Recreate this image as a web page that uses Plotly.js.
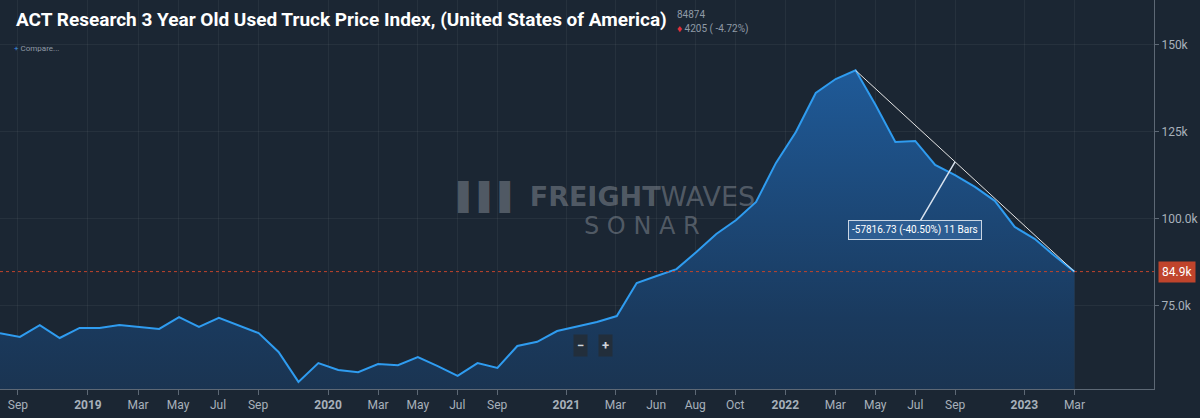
<!DOCTYPE html>
<html>
<head>
<meta charset="utf-8">
<script src="https://cdn.plot.ly/plotly-3.0.1.min.js"></script>
<style>
  html, body { margin: 0; padding: 0; background: #1b2633; }
  #chart { width: 1200px; height: 418px; }
</style>
</head>
<body>
<div id="chart"></div>
<script>
// monthly index values, Aug 2018 .. Mar 2023
const priceIndex = [
  67200, 66100, 69500, 65800, 68700, 68700, 69500, 69000, 68400, 71800,
  69000, 71600, 69300, 67200, 61800, 53200, 58600, 56600, 56000, 58300,
  58000, 60300, 57700, 54900, 58600, 57200, 63500, 64700, 67800, 69000,
  70400, 72100, 81600, 83600, 85600, 90500, 95700, 99700, 104900, 116100,
  125000, 136200, 140200, 142691, 132800, 122100, 122400, 115500, 112600, 109200,
  105200, 97700, 94300, 89400, 84874
];
const barIndex = priceIndex.map((v, i) => i);

const tickPos = [0.9, 4.42, 6.94, 8.95, 10.96, 12.97, 16.49, 19.0, 21.0, 22.98, 24.99,
  28.46, 30.92, 32.98, 34.94, 36.95, 39.47, 41.98, 43.99, 46.0, 48.01, 51.48, 54.0];
const tickText = ['Sep', '<b>2019</b>', 'Mar', 'May', 'Jul', 'Sep', '<b>2020</b>', 'Mar', 'May', 'Jul', 'Sep',
  '<b>2021</b>', 'Mar', 'Jun', 'Aug', 'Oct', '<b>2022</b>', 'Mar', 'May', 'Jul', 'Sep', '<b>2023</b>', 'Mar'];
const yTicks = [75000, 100000, 125000, 150000];
const yTickText = ['75.0k', '100.0k', '125k', '150k'];

const lastVal = priceIndex[priceIndex.length - 1];
const lastIdx = priceIndex.length - 1;
const peakVal = Math.max(...priceIndex);
const peakIdx = priceIndex.indexOf(peakVal);

let trace = [{
  x: barIndex,
  y: priceIndex,
  mode: 'lines',
  type: 'scatter',
  line: {color: '#2f9cf0', width: 2},
  fill: 'tozeroy',
  fillgradient: {
    type: 'vertical',
    colorscale: [[0, 'rgba(27,38,51,1)'], [0.5, '#1a3a5e'], [1, '#1f5a98']]
  },
  hoverinfo: 'skip'
}];

const grey = '#8f9aa6';
const wm = 'rgba(150,156,163,0.45)';
let layout = {
  width: 1200, height: 418,
  paper_bgcolor: '#1b2633',
  plot_bgcolor: '#1b2633',
  margin: {l: 0, r: 46, t: 0, b: 29},
  showlegend: false,
  font: {family: 'Roboto, sans-serif', color: grey, size: 12},
  xaxis: {
    range: [0, 58.0],
    tickvals: tickPos, ticktext: tickText,
    ticks: 'outside', ticklen: 5, tickcolor: '#5d6875',
    showgrid: true, gridcolor: 'rgba(255,255,255,0.05)',
    showline: true, linecolor: '#5d6875',
    zeroline: false,
    tickfont: {size: 12, color: '#a8b1bb'}
  },
  yaxis: {
    side: 'right',
    range: [51150, 162900],
    tickvals: yTicks, ticktext: yTickText,
    ticks: 'outside', ticklen: 4, tickcolor: '#5d6875',
    showgrid: true, gridcolor: 'rgba(255,255,255,0.05)',
    showline: true, linecolor: '#5d6875',
    zeroline: false,
    tickfont: {size: 12, color: '#a8b1bb'}
  },
  shapes: [
    {type: 'line', xref: 'paper', x0: 0, x1: 1, y0: lastVal, y1: lastVal,
     line: {color: '#c0442c', width: 1, dash: 'dot'}},
    {type: 'line', x0: peakIdx, y0: peakVal, x1: lastIdx, y1: lastVal,
     line: {color: '#e6e6e6', width: 1}}
  ],
  annotations: [
    {xref: 'paper', yref: 'paper', x: 0.0125, y: 1, yshift: -6, xanchor: 'left', yanchor: 'top',
     text: '<b>ACT Research 3 Year Old Used Truck Price Index, (United States of America)</b>',
     showarrow: false, font: {family: 'Roboto, sans-serif', size: 19, color: '#ffffff'}},
    {xref: 'paper', yref: 'paper', x: 0.585, y: 1, yshift: -7, xanchor: 'left', yanchor: 'top',
     text: '84874', showarrow: false, font: {size: 10, color: grey}},
    {xref: 'paper', yref: 'paper', x: 0.585, y: 1, yshift: -21, xanchor: 'left', yanchor: 'top',
     text: '<span style="color:#e0303a">♦</span> 4205 ( -4.72%)', showarrow: false, font: {size: 10, color: grey}},
    {xref: 'paper', yref: 'paper', x: 0.0105, y: 1, yshift: -42, xanchor: 'left', yanchor: 'top',
     text: '<span style="color:#3d8fe0">+</span> Compare...', showarrow: false, font: {size: 8, color: '#8f9aa6'}},
    {xref: 'paper', yref: 'paper', x: 0.394, y: 0.496, xanchor: 'left', yanchor: 'middle',
     text: '<b>▌▌▌ FREIGHT</b>WAVES', showarrow: false,
     font: {family: 'DejaVu Sans, sans-serif', size: 27, color: wm}},
    {xref: 'paper', yref: 'paper', x: 0.556, y: 0.42, xanchor: 'middle', yanchor: 'middle',
     text: 'S O N A R', showarrow: false,
     font: {family: 'DejaVu Sans, sans-serif', size: 24, color: wm}},
    {x: peakIdx + 5, y: peakVal + (lastVal - peakVal) * 5 / 11, ax: -40, ay: 68,
     text: '-57816.73 (-40.50%) 11 Bars', showarrow: true, arrowhead: 0, arrowcolor: '#d8e2ee', arrowwidth: 1.5,
     bgcolor: '#2d5d92', bordercolor: '#c8d4e2', borderwidth: 1, borderpad: 3,
     font: {size: 10, color: '#ffffff'}},
    {xref: 'paper', x: 1, xanchor: 'left', xshift: 4, y: lastVal, showarrow: false,
     text: '84.9k', bgcolor: '#c0442c', borderpad: 3, font: {size: 12, color: '#ffffff'}},
    {xref: 'paper', yref: 'paper', x: 0.503, y: 0.082, showarrow: false,
     text: '<b>−</b>', bgcolor: '#222e3b', borderpad: 3, font: {size: 13, color: '#d0d6dc'}},
    {xref: 'paper', yref: 'paper', x: 0.525, y: 0.082, showarrow: false,
     text: '<b>+</b>', bgcolor: '#222e3b', borderpad: 3, font: {size: 13, color: '#d0d6dc'}}
  ]
};

Plotly.newPlot('chart', trace, layout, {displayModeBar: false, staticPlot: true});
</script>
</body>
</html>
